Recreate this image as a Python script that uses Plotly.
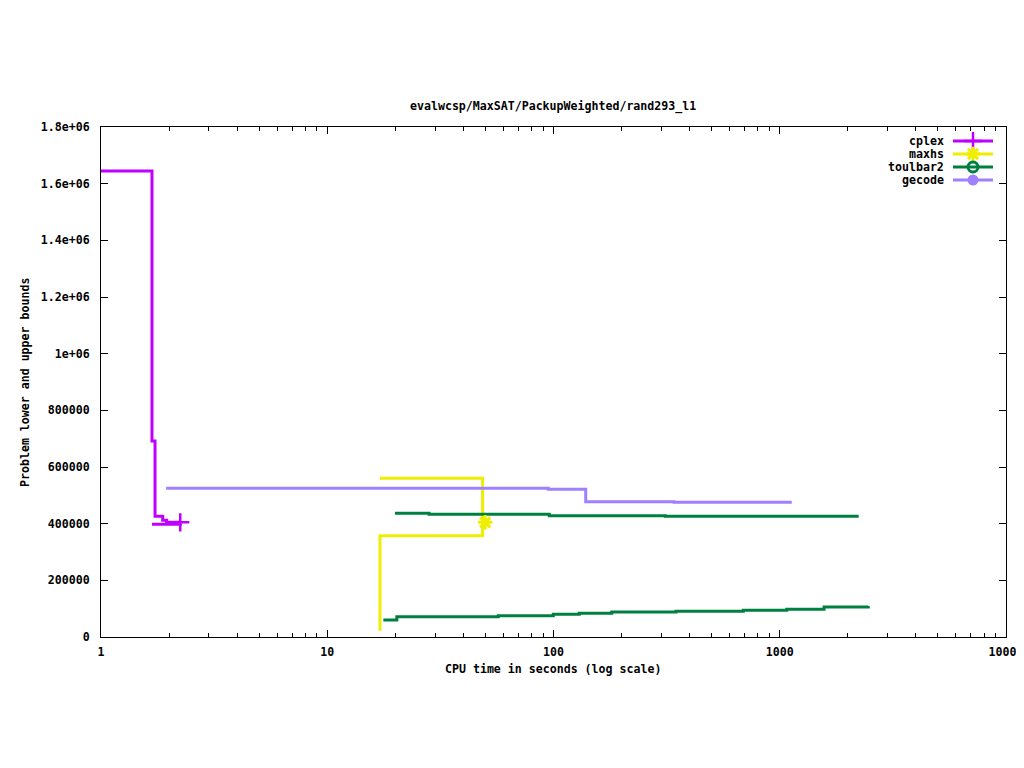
import plotly.graph_objects as go

# ---------------- data ----------------
title_text = "evalwcsp/MaxSAT/PackupWeighted/rand293_l1"
x_title = "CPU time in seconds (log scale)"
y_title = "Problem lower and upper bounds"

x_tick_vals = [1, 10, 100, 1000, 10000]
x_tick_text = ["1", "10", "100", "1000", "10000"]
y_tick_vals = [0, 200000, 400000, 600000, 800000, 1000000, 1200000, 1400000, 1600000, 1800000]
y_tick_text = ["0", "200000", "400000", "600000", "800000", "1e+06", "1.2e+06", "1.4e+06", "1.6e+06", "1.8e+06"]

solvers = ["cplex", "maxhs", "toulbar2", "gecode"]
colors = {"cplex": "#c000ff", "maxhs": "#eeee00", "toulbar2": "#008040", "gecode": "#a080ff"}

# upper bounds (step curves)
cplex_ub_t = [1.0, 1.68, 1.733, 1.874, 1.95, 2.24]
cplex_ub_v = [1645000, 691700, 426000, 411800, 404800, 404800]
cplex_lb_t = [1.68, 2.24]
cplex_lb_v = [397700, 404800]

maxhs_ub_t = [17.1, 48.6, 49.9]
maxhs_ub_v = [560000, 404800, 404800]
maxhs_lb_t = [17.1, 17.1, 48.6, 49.9]
maxhs_lb_v = [22000, 357500, 404800, 404800]

toulbar2_ub_t = [19.93, 28.2, 95.8, 312, 2233]
toulbar2_ub_v = [436500, 433000, 428000, 426000, 426000]
toulbar2_lb_t = [17.7, 20.3, 57, 99.8, 130, 181, 348, 690, 1074, 1570, 2462]
toulbar2_lb_v = [60000, 71700, 75200, 80000, 83600, 88000, 90700, 94200, 97800, 105900, 109400]

gecode_ub_t = [1.94, 94.8, 138.8, 341, 1130]
gecode_ub_v = [524700, 521200, 477500, 475300, 475300]

# proven optimum points (markers)
cplex_opt_t = [2.24]
cplex_opt_v = [404800]
maxhs_opt_t = [49.9]
maxhs_opt_v = [404800]

curves = [
    ("cplex", cplex_ub_t, cplex_ub_v), ("cplex", cplex_lb_t, cplex_lb_v),
    ("maxhs", maxhs_ub_t, maxhs_ub_v), ("maxhs", maxhs_lb_t, maxhs_lb_v),
    ("toulbar2", toulbar2_ub_t, toulbar2_ub_v), ("toulbar2", toulbar2_lb_t, toulbar2_lb_v),
    ("gecode", gecode_ub_t, gecode_ub_v),
]

marker_styles = {
    "cplex": dict(symbol="cross-thin-open", size=13, color=colors["cplex"],
                  line=dict(width=2.5, color=colors["cplex"])),
    "maxhs": dict(symbol="asterisk-open", size=12, color=colors["maxhs"],
                  line=dict(width=3, color=colors["maxhs"])),
    "toulbar2": dict(symbol="circle-open", size=10, color=colors["toulbar2"],
                     line=dict(width=3, color=colors["toulbar2"])),
    "gecode": dict(symbol="circle", size=11, color=colors["gecode"], line=dict(width=0)),
}

fig = go.Figure()

for name, t, v in curves:
    fig.add_trace(go.Scatter(x=t, y=v, mode="lines", line=dict(color=colors[name], width=3, shape="hv"),
                             showlegend=False, hoverinfo="skip"))

fig.add_trace(go.Scatter(x=cplex_opt_t, y=cplex_opt_v, mode="markers",
                         marker=marker_styles["cplex"], showlegend=False))
fig.add_trace(go.Scatter(x=maxhs_opt_t, y=maxhs_opt_v, mode="markers",
                         marker=marker_styles["maxhs"], showlegend=False))

# ---------------- custom gnuplot-like legend ----------------
# target plot-area edges in screenshot pixels (page is drawn with an 8px body offset)
OFF = 8
L, R, T, B = 101, 1006, 127, 637
W, H = R - L, B - T
def px(x):
    return (x - L) / W
def py(y):
    return (B - y) / H

FS = 11.6
legend_rows = [141, 154, 167, 180]
for name, ry in zip(solvers, legend_rows):
    fig.add_annotation(x=px(946), y=py(ry), xref="paper", yref="paper", text=name, showarrow=False,
                       xanchor="right", yanchor="middle", font=dict(size=FS))
    fig.add_shape(type="line", xref="paper", yref="paper", x0=px(953), x1=px(993), y0=py(ry), y1=py(ry),
                  line=dict(color=colors[name], width=3))
    fig.add_trace(go.Scatter(x=[px(973)], y=[py(ry)], xaxis="x2", yaxis="y2", mode="markers",
                             marker=marker_styles[name], showlegend=False, cliponaxis=False,
                             hoverinfo="skip"))

# titles
fig.add_annotation(x=px(553), y=py(107), xref="paper", yref="paper", text=title_text, showarrow=False,
                   xanchor="center", yanchor="middle", font=dict(size=FS))
fig.add_annotation(x=px(553), y=py(669), xref="paper", yref="paper", text=x_title, showarrow=False,
                   xanchor="center", yanchor="middle", font=dict(size=FS))
fig.add_annotation(x=px(25), y=py(383), xref="paper", yref="paper", text=y_title, showarrow=False,
                   xanchor="center", yanchor="middle", textangle=-90, font=dict(size=FS))

minor_x = []
for d in [1, 10, 100, 1000]:
    minor_x += [d * k for k in range(2, 10)]

FW, FH = 1024 - OFF, 768 - OFF
fig.update_layout(
    width=FW, height=FH,
    margin=dict(l=L - OFF, r=1024 - R, t=T - OFF, b=768 - B, autoexpand=False),
    plot_bgcolor="white", paper_bgcolor="white",
    showlegend=False,
    font=dict(family="DejaVu Sans Mono", size=FS, color="black", weight="bold"),
    xaxis=dict(type="log", range=[0, 4], tickvals=x_tick_vals, ticktext=x_tick_text,
               ticks="inside", ticklen=7, tickwidth=1, tickcolor="black",
               showline=True, linecolor="black", linewidth=1, mirror="ticks",
               showgrid=False, zeroline=False, ticklabelstandoff=4, automargin=False,
               minor=dict(tickvals=minor_x, ticks="inside", ticklen=4, tickcolor="black", showgrid=False)),
    yaxis=dict(range=[0, 1800000], tickvals=y_tick_vals, ticktext=y_tick_text,
               ticks="inside", ticklen=7, tickwidth=1, tickcolor="black",
               showline=True, linecolor="black", linewidth=1, mirror="ticks",
               showgrid=False, zeroline=False, ticklabelstandoff=8, automargin=False),
    xaxis2=dict(overlaying="x", range=[0, 1], visible=False, automargin=False),
    yaxis2=dict(overlaying="y", range=[0, 1], visible=False, automargin=False),
)

fig.write_html("out.html")
